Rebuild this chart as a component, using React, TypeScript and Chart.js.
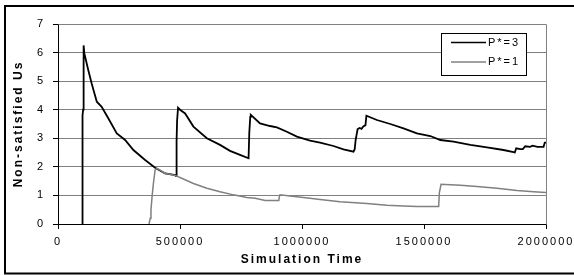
import React, { useEffect, useRef } from "react";
import { Chart, registerables } from "chart.js";

Chart.register(...registerables);

const seriesLabels = ["P*=3", "P*=1"];
const seriesColors = ["#000000", "#808080"];

const p3Times = [
  100000, 100500, 103000, 105000, 108000, 124000, 138000, 159000, 179000, 206000,
  241000, 275000, 309000, 357000, 398000, 439000, 480000, 484000, 486000, 488000,
  492000, 500000, 521000, 555000, 610000, 664000, 705000, 746000, 781000, 784000,
  788000, 790000, 828000, 869000, 897000, 938000, 979000, 1033000, 1074000, 1129000,
  1170000, 1211000, 1216000, 1220000, 1228000, 1236000, 1244000, 1252000, 1260000, 1264000,
  1307000, 1362000, 1416000, 1471000, 1526000, 1567000, 1621000, 1690000, 1758000, 1826000,
  1867000, 1872000, 1878000, 1895000, 1905000, 1915000, 1935000, 1945000, 1965000, 1990000,
  1995000, 2000000,
];
const p3Values = [
  0, 3.8, 4.0, 6.25, 5.97, 5.39, 4.92, 4.28, 4.1, 3.7,
  3.17, 2.94, 2.59, 2.24, 1.97, 1.77, 1.71, 1.68, 2.9, 3.6,
  4.07, 4.0, 3.87, 3.41, 3.0, 2.77, 2.56, 2.42, 2.3, 3.2,
  3.75, 3.82, 3.52, 3.43, 3.38, 3.23, 3.06, 2.92, 2.85, 2.73,
  2.61, 2.53, 2.62, 2.95, 3.32, 3.36, 3.33, 3.42, 3.45, 3.79,
  3.64, 3.5, 3.35, 3.17, 3.08, 2.94, 2.88, 2.77, 2.68, 2.59,
  2.52, 2.5, 2.65, 2.62, 2.62, 2.72, 2.7, 2.74, 2.7, 2.7,
  2.85, 2.85,
];

const p1Times = [
  373000, 378000, 381000, 386000, 391000, 398000, 405000, 420000, 439000, 460000,
  480000, 507000, 555000, 610000, 664000, 719000, 774000, 808000, 849000, 905000,
  907000, 910000, 951000, 1033000, 1074000, 1156000, 1266000, 1348000, 1416000, 1471000,
  1560000, 1563000, 1570000, 1649000, 1717000, 1799000, 1881000, 1949000, 2000000,
];
const p1Values = [
  0, 0.2, 0.49, 1.0, 1.42, 1.89, 1.95, 1.88, 1.77, 1.74,
  1.7, 1.6, 1.42, 1.25, 1.13, 1.02, 0.93, 0.9, 0.82, 0.82,
  0.95, 1.02, 0.98, 0.9, 0.86, 0.78, 0.72, 0.66, 0.63, 0.61,
  0.61, 1.1, 1.39, 1.36, 1.31, 1.25, 1.17, 1.13, 1.1,
];

const xTickValues = [0, 500000, 1000000, 1500000, 2000000];
const xTickLabels = ["0", "500000", "1000000", "1500000", "2000000"];
const yTickLabels = ["0", "1", "2", "3", "4", "5", "6", "7"];

const xTitle = "Simulation Time";
const yTitle = "Non-satisfied Us";

const FONT = "'Liberation Sans', Arial, sans-serif";

export default function App() {
  const ref = useRef<HTMLCanvasElement>(null);

  useEffect(() => {
    const canvas = ref.current;
    if (!canvas) return;

    const framePlugin = {
      id: "frame",
      beforeDraw(chart: any) {
        const ctx = chart.ctx;
        ctx.save();
        ctx.fillStyle = "#ffffff";
        ctx.fillRect(0, 0, chart.width, chart.height);
        ctx.restore();
        (ctx as any).letterSpacing = "2px";
      },
      afterDatasetsDraw(chart: any) {
        const ctx = chart.ctx;
        const a = chart.chartArea;
        ctx.save();
        ctx.strokeStyle = "#808080";
        ctx.lineWidth = 1;
        ctx.beginPath();
        ctx.moveTo(Math.round(a.left) + 0.5, Math.round(a.top) + 0.5);
        ctx.lineTo(Math.round(a.right) + 0.5, Math.round(a.top) + 0.5);
        ctx.lineTo(Math.round(a.right) + 0.5, Math.round(a.bottom) + 0.5);
        ctx.stroke();
        ctx.restore();
      },
      afterDraw(chart: any) {
        const ctx = chart.ctx;
        ctx.save();
        // outer chart frame
        ctx.strokeStyle = "#000000";
        ctx.lineWidth = 2;
        ctx.strokeRect(5, 6, 580, 267.5);

        // legend
        const bx = 441.5, by = 33.5, bw = 85, bh = 42;
        ctx.fillStyle = "#ffffff";
        ctx.fillRect(bx, by, bw, bh);
        ctx.lineWidth = 1;
        ctx.strokeStyle = "#000000";
        ctx.strokeRect(bx, by, bw, bh);
        const rows = [42.5, 62];
        chart.data.datasets.forEach((ds: any, i: number) => {
          const y = rows[i];
          ctx.strokeStyle = ds.borderColor;
          ctx.lineWidth = 1.5;
          ctx.beginPath();
          ctx.moveTo(451, y);
          ctx.lineTo(486, y);
          ctx.stroke();
          ctx.fillStyle = "#000000";
          ctx.font = `11px ${FONT}`;
          ctx.textAlign = "left";
          ctx.textBaseline = "middle";
          (ctx as any).letterSpacing = "2px";
          ctx.fillText(ds.label, 488, y);
        });
        ctx.restore();
      },
    };

    const chart = new Chart(canvas, {
      type: "line",
      data: {
        datasets: [
          {
            label: seriesLabels[0],
            data: p3Times.map((x, i) => ({ x, y: p3Values[i] })),
            borderColor: seriesColors[0],
            borderWidth: 1.8,
            pointRadius: 0,
            tension: 0,
            fill: false,
            order: 1,
          },
          {
            label: seriesLabels[1],
            data: p1Times.map((x, i) => ({ x, y: p1Values[i] })),
            borderColor: seriesColors[1],
            borderWidth: 1.5,
            pointRadius: 0,
            tension: 0,
            fill: false,
            order: 0,
          },
        ],
      },
      options: {
        animation: false,
        responsive: false,
        maintainAspectRatio: false,
        layout: { padding: { left: 0, top: 24, right: 28, bottom: 0 } },
        plugins: {
          legend: { display: false },
          tooltip: { enabled: false },
        },
        scales: {
          x: {
            type: "linear",
            min: 0,
            max: 2000000,
            afterBuildTicks: (s: any) => {
              s.ticks = xTickValues.map((v) => ({ value: v }));
            },
            afterFit: (s: any) => {
              s.height = 51;
              s.paddingLeft = 0;
              s.paddingRight = 0;
            },
            grid: {
              drawOnChartArea: false,
              drawTicks: true,
              tickLength: 5,
              tickColor: "#000000",
            },
            border: { color: "#000000", width: 1 },
            ticks: {
              font: { family: FONT, size: 11 },
              color: "#000000",
              padding: 6,
              maxRotation: 0,
              autoSkip: false,
              callback: (_v: any, i: number) => xTickLabels[i],
            },
            title: {
              display: true,
              text: xTitle,
              color: "#000000",
              font: { family: FONT, size: 12, weight: "bold" },
              padding: { top: 0, bottom: 8 },
            },
          },
          y: {
            min: 0,
            max: 7,
            afterFit: (s: any) => {
              s.width = 58;
            },
            grid: {
              color: "#808080",
              tickColor: "#000000",
              tickLength: 5,
              lineWidth: 1,
            },
            border: { color: "#000000", width: 1 },
            ticks: {
              stepSize: 1,
              font: { family: FONT, size: 11 },
              color: "#000000",
              padding: 8,
              callback: (v: any) => yTickLabels[Number(v)],
            },
            title: {
              display: true,
              text: yTitle,
              color: "#000000",
              font: { family: FONT, size: 12, weight: "bold" },
              padding: { top: 11, bottom: 0 },
            },
          },
        },
      },
      plugins: [framePlugin],
    } as any);

    return () => chart.destroy();
  }, []);

  return (
    <div
      style={{
        position: "fixed",
        left: 0,
        top: 0,
        width: 574,
        height: 275,
        background: "#ffffff",
      }}
    >
      <canvas
        ref={ref}
        width={574}
        height={275}
        style={{ display: "block", width: 574, height: 275 }}
      />
    </div>
  );
}
